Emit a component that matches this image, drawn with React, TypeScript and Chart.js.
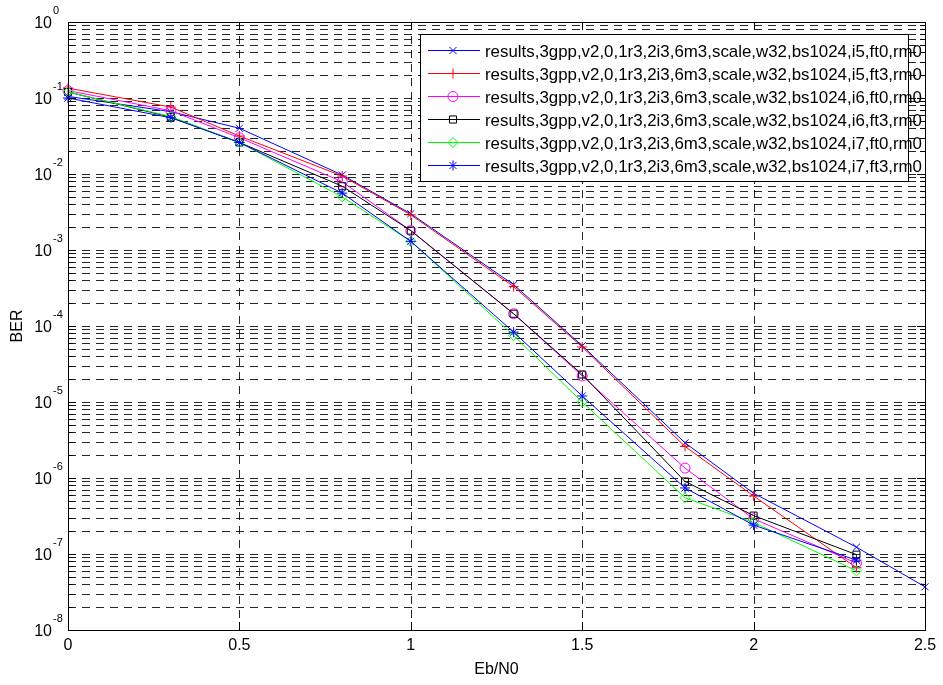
import React, { useEffect, useRef } from 'react';
import { Chart, registerables } from 'chart.js';
import { drawPoint } from 'chart.js/helpers';

Chart.register(...registerables);

// Eb/N0 values (x)
const ebN0 = [0, 0.3, 0.5, 0.8, 1.0, 1.3, 1.5, 1.8, 2.0, 2.3, 2.5];

// BER series (null = no point)
const berI5Ft0 = [0.105, 0.066, 0.040, 0.0097, 0.0030, 3.5e-4, 5.5e-5, 2.9e-6, 6.3e-7, 1.23e-7, 3.7e-8];
const berI5Ft3 = [0.135, 0.076, 0.0316, 0.0094, 0.0029, 3.3e-4, 5.3e-5, 2.6e-6, 5.8e-7, 6.6e-8, null];
const berI6Ft0 = [0.125, 0.068, 0.030, 0.0079, 0.0018, 1.45e-4, 2.2e-5, 1.35e-6, 2.9e-7, 7.6e-8, null];
const berI6Ft3 = [0.12, 0.056, 0.026, 0.0069, 0.0018, 1.45e-4, 2.3e-5, 9.0e-7, 3.2e-7, 9.8e-8, null];
const berI7Ft0 = [0.12, 0.057, 0.026, 0.0050, 0.0013, 7.5e-5, 1.0e-5, 5.5e-7, 2.6e-7, 6.0e-8, null];
const berI7Ft3 = [0.10, 0.055, 0.026, 0.0056, 0.0013, 8.3e-5, 1.2e-5, 7.4e-7, 2.4e-7, 8.3e-8, null];

const seriesLabels = [
  'results,3gpp,v2,0,1r3,2i3,6m3,scale,w32,bs1024,i5,ft0,rm0',
  'results,3gpp,v2,0,1r3,2i3,6m3,scale,w32,bs1024,i5,ft3,rm0',
  'results,3gpp,v2,0,1r3,2i3,6m3,scale,w32,bs1024,i6,ft0,rm0',
  'results,3gpp,v2,0,1r3,2i3,6m3,scale,w32,bs1024,i6,ft3,rm0',
  'results,3gpp,v2,0,1r3,2i3,6m3,scale,w32,bs1024,i7,ft0,rm0',
  'results,3gpp,v2,0,1r3,2i3,6m3,scale,w32,bs1024,i7,ft3,rm0',
];
const seriesValues = [berI5Ft0, berI5Ft3, berI6Ft0, berI6Ft3, berI7Ft0, berI7Ft3];
const seriesColors = ['#0000ff', '#ff0000', '#ff00ff', '#000000', '#00ff00', '#0000ff'];
const seriesMarkers = ['crossRot', 'cross', 'circle', 'rect', 'rectRot', 'star'];

const xMajorTicks = [0, 0.5, 1, 1.5, 2, 2.5];
const yDecadeExponents = [-8, -7, -6, -5, -4, -3, -2, -1, 0];

const FONT = '"Liberation Sans", Arial, Helvetica, sans-serif';

const matlabPlugin = {
  id: 'matlabAxes',
  beforeDatasetsDraw(chart: any) {
    const { ctx, chartArea } = chart;
    const xs = chart.scales.x;
    const ys = chart.scales.y;
    const { left, right, top, bottom } = chartArea;
    ctx.save();
    ctx.strokeStyle = 'rgba(0,0,0,0.85)';
    ctx.lineWidth = 1;
    ctx.setLineDash([8, 6]);
    // horizontal grid (major + minor)
    for (const e of yDecadeExponents) {
      for (let m = 1; m <= 9; m++) {
        if (e === 0 && m > 1) break;
        const v = m * Math.pow(10, e);
        const y = Math.round(ys.getPixelForValue(v)) + 0.5;
        if (y <= top + 1 || y >= bottom - 1) continue;
        ctx.beginPath();
        ctx.moveTo(left, y);
        ctx.lineTo(right, y);
        ctx.stroke();
      }
    }
    // vertical grid
    for (const t of xMajorTicks) {
      const x = Math.round(xs.getPixelForValue(t)) + 0.5;
      if (x <= left + 1 || x >= right - 1) continue;
      ctx.beginPath();
      ctx.moveTo(x, top);
      ctx.lineTo(x, bottom);
      ctx.stroke();
    }
    ctx.restore();
  },
  afterDatasetsDraw(chart: any) {
    const { ctx, chartArea } = chart;
    const xs = chart.scales.x;
    const ys = chart.scales.y;
    const { left, right, top, bottom } = chartArea;
    ctx.save();
    ctx.setLineDash([]);
    ctx.strokeStyle = '#000';
    ctx.lineWidth = 1;
    // ticks
    ctx.beginPath();
    for (const e of yDecadeExponents) {
      for (let m = 1; m <= 9; m++) {
        if (e === 0 && m > 1) break;
        const v = m * Math.pow(10, e);
        const y = Math.round(ys.getPixelForValue(v)) + 0.5;
        const len = m === 1 ? 8 : 5;
        ctx.moveTo(left, y);
        ctx.lineTo(left + len, y);
        ctx.moveTo(right, y);
        ctx.lineTo(right - len, y);
      }
    }
    for (const t of xMajorTicks) {
      const x = Math.round(xs.getPixelForValue(t)) + 0.5;
      ctx.moveTo(x, bottom);
      ctx.lineTo(x, bottom - 8);
      ctx.moveTo(x, top);
      ctx.lineTo(x, top + 8);
    }
    ctx.stroke();
    // box
    ctx.strokeRect(Math.round(left) + 0.5, Math.round(top) + 0.5, Math.round(right - left), Math.round(bottom - top));

    // y tick labels 10^e
    ctx.fillStyle = '#000';
    for (const e of yDecadeExponents) {
      const y = ys.getPixelForValue(Math.pow(10, e));
      ctx.font = '16px ' + FONT;
      ctx.textAlign = 'right';
      ctx.textBaseline = 'middle';
      ctx.fillText('10', left - 16, y + 2);
      ctx.font = '11px ' + FONT;
      ctx.textAlign = 'left';
      ctx.fillText(String(e), left - 15, y - 11);
    }

    // legend
    const bx = left + 352;
    const by = top + 12;
    const bw = 488;
    const bh = 147;
    ctx.fillStyle = '#fff';
    ctx.fillRect(bx, by, bw, bh);
    ctx.strokeStyle = '#000';
    ctx.strokeRect(bx + 0.5, by + 0.5, bw, bh);
    chart.data.datasets.forEach((ds: any, i: number) => {
      const ry = by + 16 + i * 23;
      ctx.strokeStyle = ds.borderColor;
      ctx.lineWidth = 1;
      ctx.beginPath();
      ctx.moveTo(bx + 8, Math.round(ry) + 0.5);
      ctx.lineTo(bx + 60, Math.round(ry) + 0.5);
      ctx.stroke();
      ctx.save();
      ctx.strokeStyle = ds.borderColor;
      ctx.fillStyle = 'rgba(0,0,0,0)';
      ctx.lineWidth = 1;
      drawPoint(ctx, {
        pointStyle: ds.pointStyle,
        radius: ds.pointRadius,
        rotation: 0,
        borderWidth: 1,
      } as any, bx + 33, ry + 0.5);
      ctx.restore();
      ctx.fillStyle = '#000';
      ctx.font = '17px ' + FONT;
      ctx.textAlign = 'left';
      ctx.textBaseline = 'alphabetic';
      const w = ctx.measureText(ds.label).width;
      const sx = 437 / w;
      ctx.save();
      ctx.translate(bx + 65, ry + 6.5);
      ctx.scale(sx, 1);
      ctx.fillText(ds.label, 0, 0);
      ctx.restore();
    });
    ctx.restore();
  },
};

export default function App() {
  const ref = useRef<HTMLCanvasElement | null>(null);
  useEffect(() => {
    document.body.style.margin = '0';
    const canvas = ref.current;
    if (!canvas) return;
    const datasets = seriesValues.map((vals, i) => ({
      label: seriesLabels[i],
      data: ebN0
        .map((x, j) => ({ x, y: vals[j] }))
        .filter((p) => p.y !== null && p.y !== undefined),
      borderColor: seriesColors[i],
      backgroundColor: 'transparent',
      pointBorderColor: seriesColors[i],
      pointBackgroundColor: 'transparent',
      borderWidth: 1,
      pointBorderWidth: 1,
      pointStyle: seriesMarkers[i],
      pointRadius: 5,
      tension: 0,
      clip: false as any,
      order: seriesValues.length - i,
    }));
    const chart = new Chart(canvas, {
      type: 'line',
      data: { datasets },
      options: {
        responsive: false,
        animation: false,
        devicePixelRatio: 1,
        layout: { padding: { top: 22, right: 18, left: 0, bottom: 0 } },
        plugins: {
          legend: { display: false },
          tooltip: { enabled: false },
        },
        scales: {
          x: {
            type: 'linear',
            min: 0,
            max: 2.5,
            grid: { display: false, drawTicks: false },
            border: { display: false },
            ticks: {
              stepSize: 0.5,
              color: '#000',
              font: { size: 16, family: FONT },
              padding: 6,
              maxRotation: 0,
              callback: (v: any) => String(v),
            },
            title: {
              display: true,
              text: 'Eb/N0',
              color: '#000',
              font: { size: 16, family: FONT },
              padding: { top: 2, bottom: 6 },
            },
            afterFit: (s: any) => {
              s.height = 55;
            },
          },
          y: {
            type: 'logarithmic',
            min: 1e-8,
            max: 1,
            grid: { display: false },
            border: { display: false },
            ticks: { display: false },
            title: {
              display: true,
              text: 'BER',
              color: '#000',
              font: { size: 16, family: FONT },
              padding: { top: 8, bottom: 0 },
            },
            afterFit: (s: any) => {
              s.width = 68;
            },
          },
        },
      } as any,
      plugins: [matlabPlugin],
    });
    return () => chart.destroy();
  }, []);
  return (
    <canvas ref={ref} width={943} height={685} style={{ display: 'block', width: 943, height: 685 }} />
  );
}
